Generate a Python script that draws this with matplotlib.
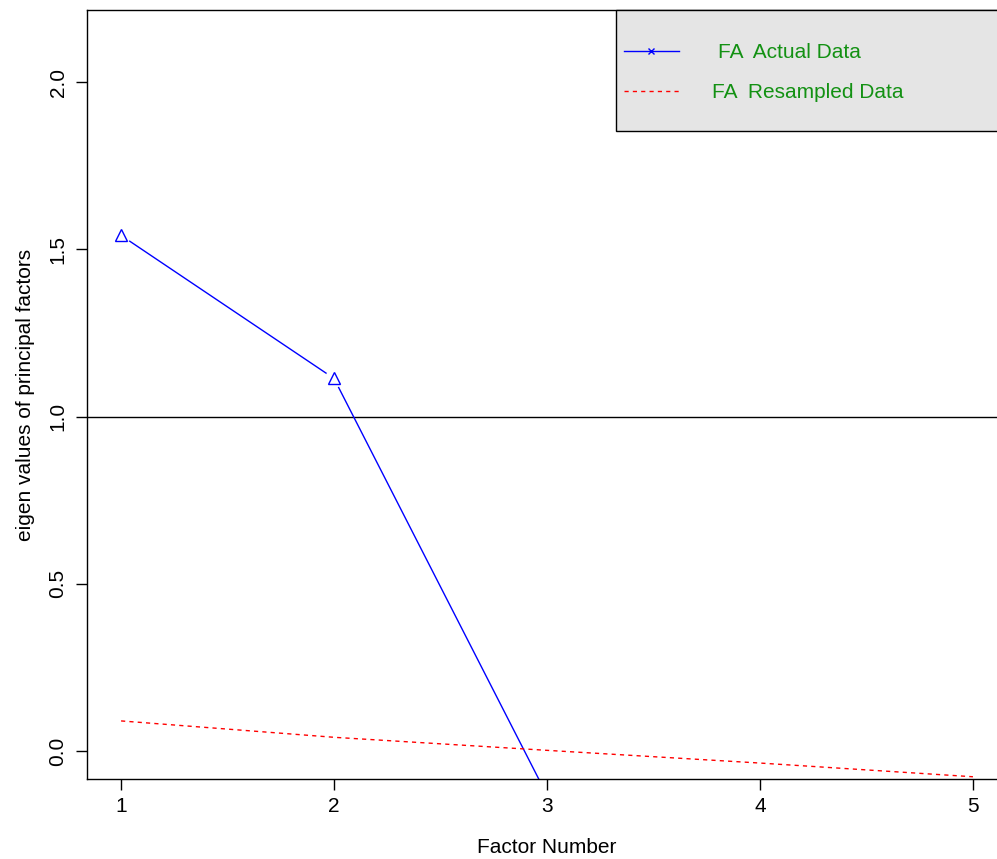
import matplotlib
matplotlib.use("Agg")
import matplotlib.pyplot as plt
from matplotlib.patches import Rectangle
from matplotlib.lines import Line2D

plt.rcParams['font.family'] = ['Liberation Sans', 'DejaVu Sans']

factors = [1, 2, 3, 4, 5]
fa_actual = [1.542, 1.114, -0.132, -0.20, -0.27]
fa_resampled = [0.090, 0.041, 0.002, -0.036, -0.077]
xticks = [1, 2, 3, 4, 5]
yticks = [0.0, 0.5, 1.0, 1.5, 2.0]

FS = 15
W, H = 997, 859
fig = plt.figure(figsize=(W/100, H/100), dpi=100)
left, right, top, bottom = 87, 1007, 10, 779
ax = fig.add_axes([left/W, 1-bottom/H, (right-left)/W, (bottom-top)/H])
ax.set_xlim(0.84, 5.16)
ax.set_ylim(-0.0837, 2.216)

blue = '#0000FF'
ax.plot(factors, fa_actual, color=blue, lw=1.0, zorder=2)
ax.plot(factors, fa_actual, linestyle='none', marker='o', markersize=13.5,
        markerfacecolor='white', markeredgecolor='none', zorder=3)
ax.plot(factors, fa_actual, linestyle='none', marker='^', markersize=8,
        markerfacecolor='none', markeredgecolor=blue, markeredgewidth=1.0, zorder=4)

ax.plot(factors, fa_resampled, color='#FF0000', lw=1.0, linestyle=(0, (3, 3)), zorder=2)
ax.axhline(1.0, color='black', lw=1.0, zorder=1)

for s in ax.spines.values():
    s.set_linewidth(1.0)

ax.set_xticks(xticks)
ax.set_xticklabels([str(v) for v in xticks])
ax.set_yticks(yticks)
ax.set_yticklabels([f"{v:.1f}" for v in yticks], rotation=90, va='center')
ax.tick_params(axis='both', direction='out', length=8, width=1.0, labelsize=FS, colors='black')
ax.tick_params(axis='x', pad=5)
ax.tick_params(axis='y', pad=6)

ax.set_xlabel('Factor Number', fontsize=FS, labelpad=16)
ax.set_ylabel('eigen values of principal factors', fontsize=FS, labelpad=10)

green = '#139113'
fig.patches.append(Rectangle((616/W, 1-131/H), (1010-616)/W, (131-10)/H,
                             transform=fig.transFigure, facecolor='#E5E5E5',
                             edgecolor='black', lw=1.0, zorder=5))
fig.lines.append(Line2D([624/W, 679/W], [1-51/H, 1-51/H], transform=fig.transFigure,
                        color=blue, lw=1.0, zorder=6))
fig.lines.append(Line2D([651/W], [1-51/H], transform=fig.transFigure, color=blue,
                        marker='x', markersize=5, markeredgewidth=1.0, linestyle='none', zorder=6))
fig.lines.append(Line2D([624/W, 679/W], [1-91/H, 1-91/H], transform=fig.transFigure,
                        color='#FF0000', lw=1.0, linestyle=(0, (3, 3)), zorder=6))
fig.text(718/W, 1-52/H, 'FA  Actual Data', color=green, fontsize=FS, va='center', ha='left', zorder=7)
fig.text(712/W, 1-92/H, 'FA  Resampled Data', color=green, fontsize=FS, va='center', ha='left', zorder=7)

fig.savefig('out.png', dpi=100)
